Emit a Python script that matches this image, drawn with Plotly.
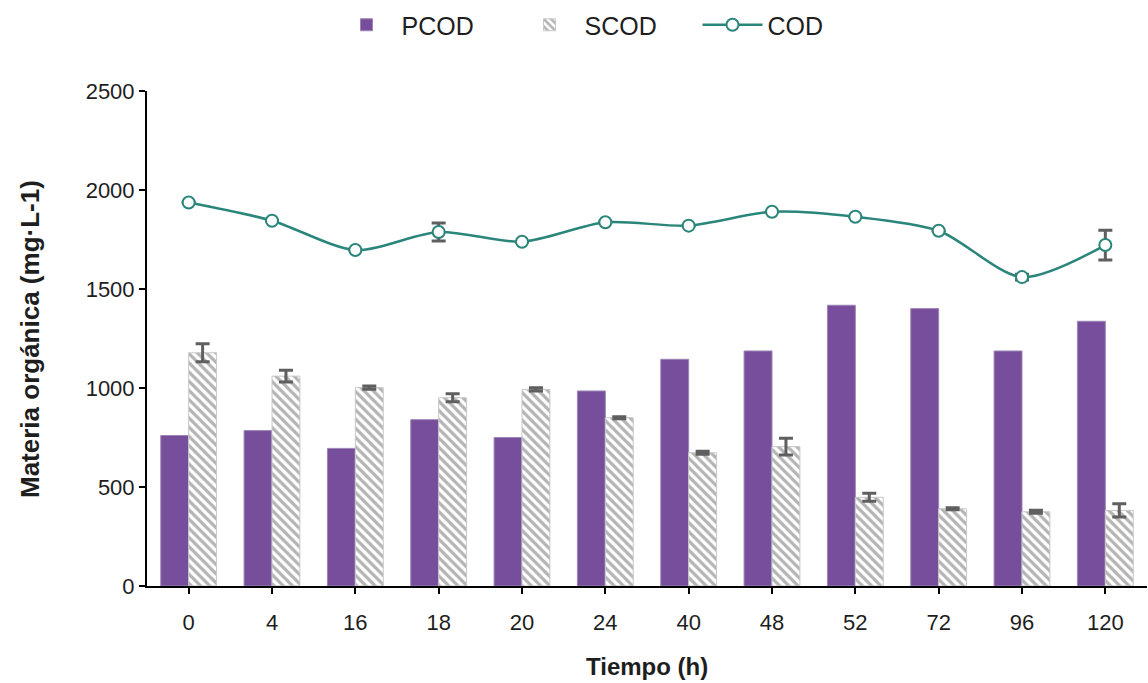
import plotly.graph_objects as go

# Sampling times (h) and organic matter measurements (mg/L)
tiempo = ["0", "4", "16", "18", "20", "24", "40", "48", "52", "72", "96", "120"]
pcod = [760, 785, 695, 840, 750, 985, 1145, 1187, 1418, 1401, 1187, 1337]
scod = [1178, 1060, 1002, 951, 993, 850, 673, 704, 448, 390, 375, 382]
scod_err = [45, 30, 8, 20, 8, 5, 8, 42, 20, 5, 7, 33]
cod = [1937, 1845, 1697, 1788, 1739, 1837, 1820, 1890, 1865, 1794, 1560, 1722]
cod_err = [0, 0, 0, 45, 0, 0, 0, 0, 0, 0, 15, 75]

PURPLE = "#774E9B"
TEAL = "#2A857A"
ERR = "#5F5F5F"
FONT = "Liberation Sans, Arial, sans-serif"
TXT = "#1E1E1E"

fig = go.Figure()

fig.add_trace(go.Bar(
    name="PCOD", x=tiempo, y=pcod,
    marker=dict(color=PURPLE, line=dict(color="#9C86B5", width=1)),
))

fig.add_trace(go.Bar(
    name="SCOD", x=tiempo, y=scod,
    marker=dict(
        color="white",
        line=dict(color="#C8C8C8", width=1),
        pattern=dict(shape="\\", fgcolor="#6A6A6A", bgcolor="white",
                     size=6.5, solidity=0.5, fillmode="overlay"),
    ),
    error_y=dict(type="data", array=scod_err, visible=True,
                 color=ERR, thickness=3, width=7),
))

fig.add_trace(go.Scatter(
    name="COD", x=tiempo, y=cod, mode="lines+markers",
    line=dict(color=TEAL, width=2.5, shape="spline", smoothing=0.8),
    marker=dict(symbol="circle", size=12, color="white",
                line=dict(color=TEAL, width=2)),
    error_y=dict(type="data", array=cod_err, visible=True,
                 color=ERR, thickness=3, width=7),
))

L, R, T, B = 147, 1, 91, 97
W, H = 1148, 683
pw, ph = W - L - R, H - T - B

fig.update_layout(
    width=W, height=H,
    margin=dict(l=L, r=R, t=T, b=B),
    paper_bgcolor="white", plot_bgcolor="white",
    barmode="group", bargap=0.33, bargroupgap=0,
    font=dict(family=FONT, size=22, color=TXT),
    showlegend=True,
    legend=dict(
        orientation="h", x=(606 - L) / pw, xanchor="center",
        y=1 + (T - 25) / ph, yanchor="middle",
        font=dict(size=25, color=TXT),
        itemwidth=60, entrywidth=108, entrywidthmode="pixels",
        traceorder="normal",
    ),
    xaxis=dict(
        type="category", range=[-0.5, len(tiempo) - 0.5],
        showline=True, linecolor="black", linewidth=2,
        ticks="outside", ticklen=6, tickwidth=2, tickcolor="black",
        ticklabelstandoff=10,
        showgrid=False, tickfont=dict(size=22, color=TXT),
    ),
    yaxis=dict(
        range=[0, 2500], dtick=500, showline=True, linecolor="black",
        linewidth=2, ticks="outside", ticklen=6, tickwidth=2,
        tickcolor="black", showgrid=False, zeroline=False,
        tickfont=dict(size=22, color=TXT),
    ),
    annotations=[
        dict(text="<b>Materia orgánica (mg·L-1)</b>", xref="paper", yref="paper",
             x=-(L - 30) / pw, y=(H - B - 339) / ph, xanchor="center",
             yanchor="middle", textangle=-90, showarrow=False,
             font=dict(size=26, color=TXT)),
        dict(text="<b>Tiempo (h)</b>", xref="paper", yref="paper",
             x=0.5, y=-(666 - (H - B)) / ph, xanchor="center",
             yanchor="middle", showarrow=False,
             font=dict(size=24, color=TXT)),
    ],
)

fig.write_html("out.html")
